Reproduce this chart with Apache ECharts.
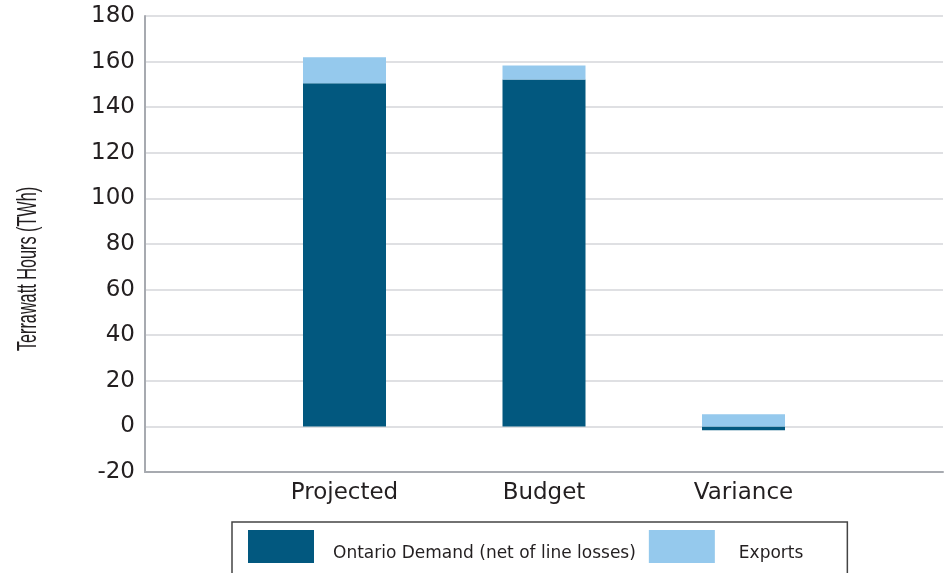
<!DOCTYPE html>
<html>
<head>
<meta charset="utf-8">
<script src="https://cdn.jsdelivr.net/npm/echarts@6/dist/echarts.min.js"></script>
<style>
  html, body { margin: 0; padding: 0; background: #ffffff; }
  #chart { width: 946px; height: 573px; }
</style>
</head>
<body>
<div id="chart"></div>
<script>
// Electricity demand, projected vs budget, in TWh
const categories = ['Projected', 'Budget', 'Variance'];
const demandValues = [150.5, 152.2, -1.7];
const exportValues = [11.4, 6.1, 5.3];
const yTicks = { min: -20, max: 180, interval: 20 };
const yTitle = 'Terrawatt Hours (TWh)';

const seriesNames = ['Ontario Demand (net of line losses)', 'Exports'];
const colors = ['#02587f', '#95c9ed'];

// The category axis runs edge to edge, with an empty slot at each end
const axisCategories = [''].concat(categories, ['']);
const pad = arr => ['-'].concat(arr, ['-']);

// Legend labels sit a little below the swatch centre
const legendRich = (left) => ({
  t: {
    fontFamily: 'DejaVu Sans',
    fontSize: 17,
    color: '#231f20',
    padding: [14, 0, 0, left]
  }
});

const chart = echarts.init(document.getElementById('chart'), null, { renderer: 'canvas' });

chart.setOption({
  animation: false,
  backgroundColor: '#ffffff',
  color: colors,
  grid: { left: 145, right: 0, top: 16, bottom: 101, containLabel: false },
  // Condensed, rotated axis title
  graphic: [
    {
      type: 'text',
      x: 28,
      y: 269,
      rotation: Math.PI / 2,
      scaleX: 0.58,
      style: {
        text: yTitle,
        font: '28px "Liberation Sans", Arial, sans-serif',
        fill: '#231f20',
        textAlign: 'center',
        textVerticalAlign: 'middle'
      }
    }
  ],
  legend: {
    data: [
      { name: seriesNames[0], textStyle: { rich: legendRich(14) } },
      { name: seriesNames[1], textStyle: { rich: legendRich(19) } }
    ],
    formatter: name => '{t|' + name + '}',
    left: 232,
    top: 522,
    orient: 'horizontal',
    itemWidth: 66,
    itemHeight: 33,
    itemGap: 13,
    padding: [8, 44, 20, 16],
    borderColor: '#444444',
    borderWidth: 1.5,
    icon: 'rect',
    selectedMode: false,
    textStyle: {
      fontFamily: 'DejaVu Sans',
      fontSize: 17,
      color: '#231f20'
    }
  },
  xAxis: {
    type: 'category',
    data: axisCategories,
    boundaryGap: false,
    axisLine: { onZero: false, lineStyle: { color: '#a7aab0', width: 2 } },
    axisTick: { show: false },
    splitLine: { show: false },
    axisLabel: {
      interval: 0,
      margin: 10,
      fontFamily: 'DejaVu Sans',
      fontSize: 23,
      color: '#231f20'
    }
  },
  yAxis: {
    type: 'value',
    min: yTicks.min,
    max: yTicks.max,
    interval: yTicks.interval,
    axisLine: { show: true, lineStyle: { color: '#a7aab0', width: 2 } },
    axisTick: { show: false },
    splitLine: { lineStyle: { color: '#d5d6da', width: 1.5 } },
    axisLabel: {
      margin: 10,
      fontFamily: 'DejaVu Sans',
      fontSize: 23,
      color: '#231f20'
    }
  },
  series: [
    {
      name: seriesNames[0],
      type: 'bar',
      stack: 'total',
      barWidth: 83,
      data: pad(demandValues),
      itemStyle: { color: colors[0] }
    },
    {
      name: seriesNames[1],
      type: 'bar',
      stack: 'total',
      barWidth: 83,
      data: pad(exportValues),
      itemStyle: { color: colors[1] }
    }
  ]
});
</script>
</body>
</html>
